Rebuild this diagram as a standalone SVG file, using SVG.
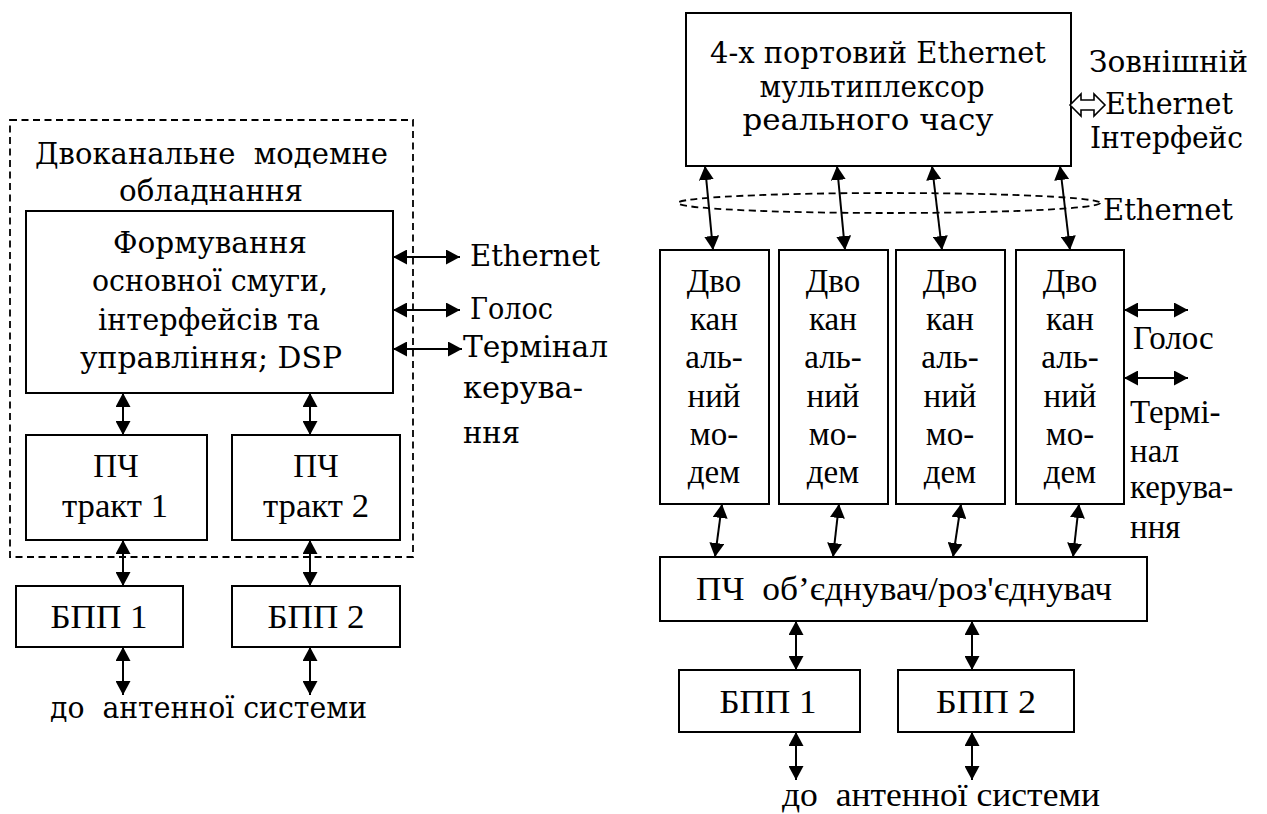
<svg xmlns="http://www.w3.org/2000/svg" width="1267" height="814" viewBox="0 0 1267 814">
<style>
.bg{fill:#fff}
.box{fill:#fff;stroke:#000;stroke-width:2}
.dash{fill:none;stroke:#000;stroke-width:1.8;stroke-dasharray:7 4.5}
.mid{text-anchor:middle}
.cs{font-family:'DejaVu Serif',serif;font-size:29px;fill:#000}
.tm{font-family:'Liberation Serif','Times New Roman',serif;font-size:33px;fill:#000}
.c{stroke:#000;stroke-width:2;fill:none;marker-start:url(#ah);marker-end:url(#ah)}
.hollow{fill:#fff;stroke:#000;stroke-width:1.6;stroke-linejoin:miter}
</style>
<defs>
<marker id="ah" viewBox="0 0 14 15" refX="14" refY="7.5" markerWidth="14" markerHeight="15" markerUnits="userSpaceOnUse" orient="auto-start-reverse">
<path d="M0,0 L14,7.5 L0,15 z" fill="#000"/>
</marker>
</defs>
<rect class="bg" x="0" y="0" width="1267" height="814"/>

<g id="modem-equipment">
<rect class="dash" x="10" y="120" width="403" height="437"/>
<text class="cs mid" x="211.5" y="164" textLength="353" lengthAdjust="spacingAndGlyphs" xml:space="preserve">Двоканальне  модемне</text>
<text class="cs mid" x="211" y="201" textLength="184" lengthAdjust="spacingAndGlyphs">обладнання</text>
</g>
<g id="baseband">
<rect class="box" x="26" y="211" width="367" height="182"/>
<text class="cs mid" x="210" y="253" textLength="194" lengthAdjust="spacingAndGlyphs">Формування</text>
<text class="cs mid" x="210" y="291" textLength="236" lengthAdjust="spacingAndGlyphs">основної смуги,</text>
<text class="cs mid" x="209" y="330" textLength="222" lengthAdjust="spacingAndGlyphs">інтерфейсів та</text>
<text class="cs mid" x="211" y="368" textLength="262" lengthAdjust="spacingAndGlyphs">управління; DSP</text>
</g>
<g id="left-labels">
<text class="cs" x="470" y="266" textLength="130" lengthAdjust="spacingAndGlyphs">Ethernet</text>
<text class="cs" x="470" y="319" textLength="83" lengthAdjust="spacingAndGlyphs">Голос</text>
<text class="cs" x="463" y="357" textLength="145" lengthAdjust="spacingAndGlyphs">Термінал</text>
<text class="cs" x="463" y="398" textLength="120" lengthAdjust="spacingAndGlyphs">керува-</text>
<text class="cs" x="463" y="443" textLength="57" lengthAdjust="spacingAndGlyphs">ння</text>
</g>
<g id="if-path-1">
<rect class="box" x="26" y="435" width="181" height="105"/>
<text class="tm mid" x="116" y="477">ПЧ</text>
<text class="tm mid" x="115" y="517" textLength="106" lengthAdjust="spacingAndGlyphs">тракт 1</text>
</g>
<g id="if-path-2">
<rect class="box" x="232" y="435" width="168" height="105"/>
<text class="tm mid" x="316" y="477">ПЧ</text>
<text class="tm mid" x="316" y="517" textLength="106" lengthAdjust="spacingAndGlyphs">тракт 2</text>
</g>
<g id="bpp-1-left">
<rect class="box" x="16" y="586" width="167" height="61"/>
<text class="tm mid" x="99" y="628" textLength="97" lengthAdjust="spacingAndGlyphs">БПП 1</text>
</g>
<g id="bpp-2-left">
<rect class="box" x="232" y="586" width="168" height="61"/>
<text class="tm mid" x="316" y="628" textLength="97" lengthAdjust="spacingAndGlyphs">БПП 2</text>
</g>
<g id="antenna-left">
<text class="cs mid" x="208.5" y="718" textLength="317" lengthAdjust="spacingAndGlyphs" xml:space="preserve">до  антенної системи</text>
</g>

<g id="ethernet-mux">
<rect class="box" x="686" y="13" width="385" height="153"/>
<text class="cs mid" x="878" y="63" textLength="336" lengthAdjust="spacingAndGlyphs">4-х портовий Ethernet</text>
<text class="cs mid" x="872" y="97" textLength="225" lengthAdjust="spacingAndGlyphs">мультиплексор</text>
<text class="cs mid" x="868" y="130" textLength="251" lengthAdjust="spacingAndGlyphs">реального часу</text>
</g>
<g id="external-ethernet">
<text class="cs" x="1089" y="72" textLength="159" lengthAdjust="spacingAndGlyphs">Зовнішній</text>
<text class="cs" x="1105" y="114" textLength="128" lengthAdjust="spacingAndGlyphs">Ethernet</text>
<text class="cs" x="1090" y="148" textLength="153" lengthAdjust="spacingAndGlyphs">Інтерфейс</text>
</g>
<g id="ethernet-bus">
<ellipse class="dash" cx="889" cy="203" rx="211" ry="10"/>
<text class="cs" x="1103" y="220" textLength="130" lengthAdjust="spacingAndGlyphs">Ethernet</text>
</g>
<g id="modem-1">
<rect class="box" x="660" y="250" width="109" height="254"/>
<text class="tm mid" x="714" y="292">Дво</text>
<text class="tm mid" x="714" y="330">кан</text>
<text class="tm mid" x="714" y="368">аль-</text>
<text class="tm mid" x="714" y="407">ний</text>
<text class="tm mid" x="714" y="445">мо-</text>
<text class="tm mid" x="714" y="483">дем</text>
</g>
<g id="modem-2">
<rect class="box" x="779" y="250" width="109" height="254"/>
<text class="tm mid" x="833" y="292">Дво</text>
<text class="tm mid" x="833" y="330">кан</text>
<text class="tm mid" x="833" y="368">аль-</text>
<text class="tm mid" x="833" y="407">ний</text>
<text class="tm mid" x="833" y="445">мо-</text>
<text class="tm mid" x="833" y="483">дем</text>
</g>
<g id="modem-3">
<rect class="box" x="896" y="250" width="109" height="254"/>
<text class="tm mid" x="950" y="292">Дво</text>
<text class="tm mid" x="950" y="330">кан</text>
<text class="tm mid" x="950" y="368">аль-</text>
<text class="tm mid" x="950" y="407">ний</text>
<text class="tm mid" x="950" y="445">мо-</text>
<text class="tm mid" x="950" y="483">дем</text>
</g>
<g id="modem-4">
<rect class="box" x="1016" y="250" width="108" height="254"/>
<text class="tm mid" x="1070" y="292">Дво</text>
<text class="tm mid" x="1070" y="330">кан</text>
<text class="tm mid" x="1070" y="368">аль-</text>
<text class="tm mid" x="1070" y="407">ний</text>
<text class="tm mid" x="1070" y="445">мо-</text>
<text class="tm mid" x="1070" y="483">дем</text>
</g>
<g id="right-labels">
<text class="tm" x="1133" y="349">Голос</text>
<text class="tm" x="1130" y="423">Термі-</text>
<text class="tm" x="1130" y="462">нал</text>
<text class="tm" x="1130" y="498">керува-</text>
<text class="tm" x="1130" y="538">ння</text>
</g>
<g id="if-combiner">
<rect class="box" x="660" y="557" width="487" height="64"/>
<text class="tm mid" x="904" y="600" textLength="416" lengthAdjust="spacingAndGlyphs" xml:space="preserve">ПЧ  об’єднувач/роз'єднувач</text>
</g>
<g id="bpp-1-right">
<rect class="box" x="679" y="670" width="181" height="62"/>
<text class="tm mid" x="768" y="713" textLength="97" lengthAdjust="spacingAndGlyphs">БПП 1</text>
</g>
<g id="bpp-2-right">
<rect class="box" x="898" y="670" width="176" height="62"/>
<text class="tm mid" x="986" y="713" textLength="100" lengthAdjust="spacingAndGlyphs">БПП 2</text>
</g>
<g id="antenna-right">
<text class="tm mid" x="941" y="806" textLength="318" lengthAdjust="spacingAndGlyphs" xml:space="preserve">до  антенної системи</text>
</g>

<g id="connectors">
<line class="c" x1="393" y1="257" x2="460" y2="257"/>
<line class="c" x1="393" y1="310" x2="460" y2="310"/>
<line class="c" x1="393" y1="349" x2="462" y2="349"/>
<line class="c" x1="123" y1="393" x2="123" y2="435"/>
<line class="c" x1="310" y1="393" x2="310" y2="435"/>
<line class="c" x1="123" y1="540" x2="123" y2="586"/>
<line class="c" x1="310" y1="540" x2="310" y2="586"/>
<line class="c" x1="123" y1="647" x2="123" y2="695"/>
<line class="c" x1="310" y1="647" x2="310" y2="695"/>
<path class="hollow" d="M1070,105 L1081,94 L1081,100 L1094,100 L1094,94 L1105,105 L1094,116 L1094,110 L1081,110 L1081,116 Z"/>
<line class="c" x1="705" y1="166" x2="713" y2="250"/>
<line class="c" x1="837" y1="166" x2="845" y2="250"/>
<line class="c" x1="932" y1="166" x2="942" y2="250"/>
<line class="c" x1="1060" y1="166" x2="1070" y2="250"/>
<line class="c" x1="1124" y1="310" x2="1188" y2="310"/>
<line class="c" x1="1124" y1="378" x2="1188" y2="378"/>
<line class="c" x1="722" y1="504" x2="715" y2="557"/>
<line class="c" x1="839" y1="504" x2="833" y2="557"/>
<line class="c" x1="961" y1="504" x2="953" y2="557"/>
<line class="c" x1="1079" y1="504" x2="1073" y2="557"/>
<line class="c" x1="796" y1="621" x2="796" y2="670"/>
<line class="c" x1="972" y1="621" x2="972" y2="670"/>
<line class="c" x1="796" y1="732" x2="796" y2="780"/>
<line class="c" x1="972" y1="732" x2="972" y2="780"/>
</g>
</svg>
